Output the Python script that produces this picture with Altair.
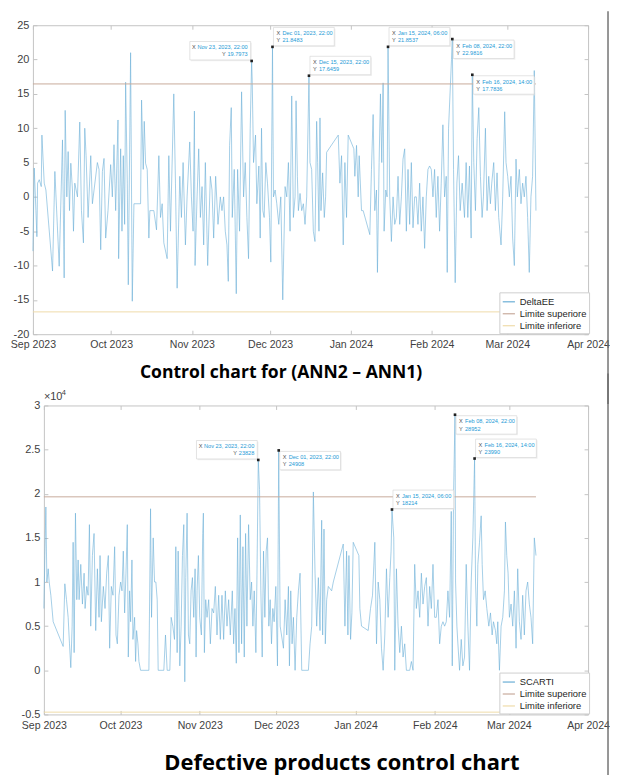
import altair as alt
import pandas as pd

# ---------------- data ----------------
START = "2023-09-01"
tick_months = [(2023, 9), (2023, 10), (2023, 11), (2023, 12), (2024, 1), (2024, 2), (2024, 3), (2024, 4)]

# (days after 1 Sep 2023 00:00, DeltaEE)
deltaee = [
 (0.0,-7.9),(0.51,4.2),(1.15,-2.0),(1.53,-5.8),(1.79,2.0),(2.43,2.5),(3.2,1.5),(3.45,9.0),(4.34,2.0),(4.98,1.0),
 (7.53,-10.8),(8.42,3.7),(10.08,-10.1),(11.35,8.3),(11.99,-11.8),(12.37,12.6),(13.01,0.0),(13.52,6.6),(14.03,-2.0),(14.54,4.9),
 (15.17,1.0),(15.56,-5.0),(16.07,2.0),(17.09,0.0),(17.98,10.9),(18.62,-2.0),(19.38,-6.7),(19.89,10.0),(20.40,6.0),(21.17,-3.0),
 (22.19,6.0),(22.82,-1.0),(24.73,5.0),(25.37,4.0),(26.01,-7.7),(26.65,3.7),(27.28,5.6),(27.92,-6.0),(28.81,-2.0),(29.83,4.7),
 (30.47,0.0),(31.11,7.6),(31.75,-2.0),(32.64,11.2),(32.89,-9.0),(33.66,7.0),(34.17,-5.0),(34.68,6.0),(35.19,-4.0),(35.57,16.7),
 (36.21,2.0),(36.59,-12.8),(37.48,21.0),(38.12,-15.2),(38.76,-1.0),(41.31,-1.0),(41.69,14.1),(42.33,4.0),(42.71,11.0),(43.22,4.9),
 (43.85,4.0),(44.49,-6.0),(44.87,-2.0),(46.40,-2.0),(47.42,-4.8),(48.32,6.0),(48.95,-3.0),(49.59,-1.0),(50.23,-6.7),(51.50,-9.0),
 (52.14,6.0),(52.78,-5.0),(54.05,15.0),(54.69,2.0),(55.33,-13.3),(56.35,3.0),(56.98,-3.0),(57.62,5.0),(58.51,-7.0),(59.15,0.0),
 (60.17,8.0),(60.81,0.0),(61.45,-5.0),(61.96,12.5),(62.21,-10.0),(62.98,0.0),(63.61,7.0),(64.25,-3.0),(64.89,1.5),(65.52,-7.0),
 (66.16,5.0),(67.05,-10.0),(68.07,3.0),(68.71,1.0),(69.35,-6.0),(70.11,3.0),(71.01,-4.0),(71.90,0.0),(72.54,-2.0),(73.17,0.0),
 (73.81,-5.0),(74.45,-7.0),(74.96,-12.3),(75.47,7.5),(76.10,13.0),(76.49,-3.0),(77.25,4.0),(78.02,-14.1),(78.53,4.0),(79.29,-5.0),
 (80.06,15.3),(80.82,0.0),(81.46,5.0),(82.10,-3.0),(82.73,-9.0),(83.37,10.0),(83.917,19.7973),(84.14,17.0),(84.65,5.0),(85.41,9.0),
 (85.92,-1.0),(86.69,4.5),(87.20,-6.0),(87.71,10.0),(88.21,-2.0),(88.72,-3.0),(89.36,5.0),(90.00,2.0),(90.77,-3.0),(91.28,-9.5),
 (91.917,21.8483),(92.29,0.0),(92.93,1.0),(93.57,-1.0),(94.33,-4.0),(95.10,0.0),(95.86,-15.0),(96.75,1.5),(97.39,0.0),(98.03,5.0),
 (98.66,-5.0),(99.30,14.7),(99.94,-3.0),(100.58,0.0),(100.96,14.0),(101.47,3.0),(101.85,-2.0),(102.49,0.5),(103.13,-2.0),(103.76,-1.0),
 (104.40,-4.0),(105.04,0.0),(105.917,17.6459),(106.31,5.0),(106.95,4.0),(107.59,-5.0),(108.22,-6.5),(108.86,11.0),(109.24,5.0),(109.75,-5.0),
 (110.14,11.5),(110.52,-2.0),(111.16,3.5),(111.79,-3.0),(112.30,0.0),(112.69,6.5),(117.15,9.0),(117.78,2.0),(118.42,6.0),(119.06,-7.0),
 (119.70,5.0),(120.33,-3.0),(120.97,9.0),(123.14,7.0),(123.52,3.0),(124.16,7.5),(124.80,0.0),(125.18,6.0),(126.07,-2.0),(126.71,-2.0),
 (129.26,-5.5),(129.89,4.0),(130.53,12.0),(131.17,-2.0),(131.81,1.0),(132.19,-11.0),(132.83,5.0),(133.34,15.0),(133.85,5.0),(134.36,16.6),
 (134.74,-5.0),(135.38,1.0),(135.89,0.0),(136.25,21.8537),(136.90,0.0),(137.54,-6.5),(138.18,0.0),(138.82,-4.0),(139.45,-3.0),(140.09,3.0),
 (140.73,-4.0),(141.37,0.0),(142.00,5.5),(142.64,7.0),(143.28,-5.0),(143.92,4.0),(144.55,-4.0),(145.19,5.0),(145.83,-4.5),(146.47,0.0),
 (147.10,0.0),(147.74,-4.0),(148.38,2.0),(149.01,-5.0),(149.65,0.0),(150.29,-7.5),(150.93,0.0),(151.56,4.0),(152.20,4.5),(152.84,4.0),
 (153.48,0.0),(154.11,4.0),(154.75,-3.0),(155.39,3.0),(156.03,-5.0),(156.66,2.0),(157.30,10.5),(157.94,0.0),(158.58,3.0),(158.96,-11.0),
 (159.47,10.0),(160.6,20.0),(160.917,22.9816),(161.38,4.0),(162.02,-12.5),(162.66,2.0),(163.29,6.0),(163.93,-2.0),(164.69,2.0),(165.59,-3.0),
 (166.22,5.0),(166.86,-3.0),(167.50,4.5),(168.14,-6.0),(168.583,17.7836),(169.15,5.0),(169.79,-2.0),(170.43,8.5),(171.07,13.0),(171.70,3.0),
 (172.34,-3.0),(172.85,0.0),(173.62,10.0),(174.25,-2.0),(174.89,3.0),(175.53,-1.0),(176.04,2.0),(176.80,5.0),(177.44,-2.0),(178.08,3.5),
 (178.72,-3.0),(179.61,-7.0),(180.25,0.0),(181.01,12.4),(181.52,5.0),(182.16,3.0),(182.80,0.0),(183.43,3.0),(184.07,-6.0),(184.71,-10.0),
 (185.35,5.5),(185.86,0.0),(186.62,4.0),(187.26,-1.0),(187.90,2.0),(188.53,0.0),(189.17,3.0),(189.81,-3.0),(190.44,-11.0),(191.08,0.0),
 (191.72,3.0),(192.36,18.4),(193.00,-2.0),
]

# (days after 1 Sep 2023 00:00, SCARTI)
scarti = [
 (0.0,7000),(0.39,13000),(0.78,18500),(1.17,10000),(1.69,11500),(2.08,10000),(2.73,8500),(3.64,5500),(7.55,2700),(8.20,9800),
 (8.85,8000),(9.50,6000),(10.02,3000),(10.54,300),(11.06,5000),(11.45,14500),(11.84,2000),(12.36,17800),(12.88,8000),(13.40,12500),
 (13.79,8000),(14.44,12000),(15.09,7500),(15.74,11000),(16.13,7000),(16.78,9500),(17.30,8500),(17.82,16500),(18.34,5000),(18.99,13000),
 (19.64,15500),(20.29,4500),(20.94,11500),(21.59,6000),(21.98,13000),(22.50,5500),(23.28,9500),(23.93,7000),(24.58,11000),(25.23,13000),
 (25.75,2500),(26.40,9500),(27.05,8500),(27.70,14000),(28.23,4000),(28.75,3000),(29.40,8500),(30.05,10000),(30.57,9000),(31.09,13500),
 (31.61,6500),(32.13,11000),(32.65,16500),(33.04,1500),(33.56,9000),(33.95,5500),(34.47,12500),(34.86,3500),(35.51,6000),(35.90,1000),
 (36.29,4500),(36.81,3000),(37.20,1000),(37.85,0),(41.10,0),(41.75,18300),(42.14,6000),(42.79,15000),(43.31,10000),(43.83,10000),
 (44.35,8000),(44.74,0),(46.95,0),(47.60,4000),(48.25,0),(49.30,0),(49.82,6000),(50.47,5000),(51.12,3500),(51.64,14000),
 (52.16,2000),(52.55,13500),(53.20,500),(53.72,5000),(54.24,13000),(54.76,16500),(55.15,-1300),(55.54,10500),(56.06,17800),(56.58,4000),
 (57.10,3000),(57.62,9000),(58.14,10500),(58.66,6000),(59.18,11500),(59.57,1500),(59.96,9000),(60.48,13000),(61.00,6000),(61.65,4000),
 (62.17,15500),(62.43,17800),(62.82,2000),(63.34,8000),(63.86,6000),(64.51,8000),(65.16,3000),(65.81,7000),(66.46,6500),(67.11,9500),
 (67.76,4000),(68.41,8500),(69.06,3500),(69.71,8500),(70.36,3500),(71.02,9000),(71.67,5000),(72.32,8000),(72.97,4000),(73.75,9000),
 (74.27,3000),(74.79,7000),(75.31,800),(75.83,15000),(76.35,2000),(76.87,17600),(77.39,3000),(77.91,14000),(78.43,1500),(78.95,15500),
 (79.47,5000),(80.12,16500),(80.77,8000),(81.29,10000),(81.81,5000),(82.33,9000),(82.98,2000),(83.37,10000),(83.917,23828),(84.41,20500),
 (84.93,9000),(85.45,1500),(85.97,13500),(86.49,6000),(87.01,13500),(87.53,15000),(88.05,5000),(88.57,8000),(89.09,3000),(89.61,7000),
 (90.13,5500),(90.78,9500),(91.43,500),(91.917,24908),(92.48,5000),(93.77,2500),(94.42,8000),(95.07,4000),(95.72,9500),(96.11,500),
 (96.63,9000),(97.15,3000),(97.67,6000),(98.32,0),(98.97,6000),(99.62,9000),(100.27,11000),(100.92,0),(103.53,0),(104.18,3000),
 (104.83,5000),(105.48,20200),(106.13,11000),(106.78,5000),(107.43,10500),(108.08,4500),(108.73,17000),(109.12,4000),(109.64,16000),(110.16,3000),
 (110.68,8000),(111.33,9500),(112.63,9000),(113.28,10000),(117.18,14300),(117.83,5000),(118.48,13500),(119.00,4000),(119.39,13000),(120.04,3500),
 (120.56,6500),(121.08,14500),(123.29,13000),(123.68,7000),(124.33,5000),(126.94,4500),(127.85,7000),(128.63,8500),(129.54,14500),(130.19,3000),
 (130.84,10000),(131.49,8000),(132.14,2500),(132.79,0),(133.44,4000),(134.09,11500),(134.74,6000),(135.39,10500),(135.9,13500),(136.25,18214),
 (136.95,15000),(137.34,0),(137.99,11500),(138.64,5000),(139.29,2000),(139.94,5000),(140.59,1500),(141.24,3000),(141.89,0),(143.19,0),
 (143.84,1000),(144.49,0),(145.14,12000),(145.79,7000),(146.44,9000),(147.10,6000),(147.75,11000),(148.40,7500),(149.05,9500),(149.70,10500),
 (150.35,5000),(151.00,9500),(151.65,7000),(152.30,12000),(152.95,6000),(153.60,6000),(154.25,8000),(154.90,3000),(155.55,5000),(156.20,5500),
 (156.85,5000),(157.50,5500),(158.15,9000),(158.80,6000),(159.45,18000),(159.84,500),(160.36,20000),(160.917,28952),(161.14,10000),(161.66,5000),
 (162.05,3000),(162.70,0),(163.35,3500),(164.00,500),(164.65,1500),(165.30,12000),(165.95,5000),(166.60,0),(167.25,10000),(167.90,15000),
 (168.583,23990),(168.95,10000),(169.47,5000),(169.86,12000),(170.51,14500),(171.16,17500),(171.55,12000),(172.07,8000),(172.72,9000),(173.37,7000),
 (174.15,5000),(174.80,6500),(175.45,4000),(175.97,5500),(176.75,4500),(177.27,3000),(177.66,5500),(178.31,0),(178.96,5000),(179.61,6000),
 (180.26,9000),(180.65,16800),(181.17,13000),(181.69,11000),(182.21,6000),(182.86,7500),(183.51,5000),(184.16,9000),(184.81,2500),(185.46,11500),
 (186.11,5500),(186.76,3500),(187.41,8500),(188.06,4000),(188.71,9000),(189.36,10000),(190.01,7500),(190.66,6000),(191.31,3000),(191.96,15000),
 (192.61,13000),
]

top_limits = [16.45, -16.75]
bot_limits = [19650, -4740]

top_y_ticks = [-20, -15, -10, -5, 0, 5, 10, 15, 20, 25]
bot_y_ticks = [-5000, 0, 5000, 10000, 15000, 20000, 25000, 30000]

# data tips: day, value, X text, Y text, box side, box direction
top_tips = [
 (83.917, 19.7973, "Nov 23, 2023, 22:00", "19.7973", "left", "up"),
 (91.917, 21.8483, "Dec 01, 2023, 22:00", "21.8483", "right", "up"),
 (105.917, 17.6459, "Dec 15, 2023, 22:00", "17.6459", "right", "up"),
 (136.25, 21.8537, "Jan 15, 2024, 06:00", "21.8537", "right", "up"),
 (160.917, 22.9816, "Feb 08, 2024, 22:00", "22.9816", "right", "down"),
 (168.583, 17.7836, "Feb 16, 2024, 14:00", "17.7836", "right", "down"),
]
bot_tips = [
 (83.917, 23828, "Nov 23, 2023, 22:00", "23828", "left", "up"),
 (91.917, 24908, "Dec 01, 2023, 22:00", "24908", "right", "down"),
 (136.25, 18214, "Jan 15, 2024, 06:00", "18214", "right", "up"),
 (160.917, 28952, "Feb 08, 2024, 22:00", "28952", "right", "down"),
 (168.583, 23990, "Feb 16, 2024, 14:00", "23990", "right", "up"),
]

top_title = "Control chart for (ANN2 \u2013 ANN1)"
bot_title = "Defective products control chart"

# ---------------- style ----------------
BLUE = "#6aaed6"
UPPER = "#c8ab9c"
LOWER = "#efdcaa"
TIP_BLUE = "#1e9ad6"
FRAME = "#c4c4c4"
LABEL = "#3f3f3f"
FONT = "Liberation Sans"
H = 310

month_ticks = [alt.DateTime(year=y, month=m, date=1) for y, m in tick_months]


def stamps(days):
    base = pd.Timestamp(START)
    return [(base + pd.Timedelta(days=float(d))).strftime("%Y-%m-%dT%H:%M:%S") for d in days]


def text_w(s, fs):
    w = 0.0
    for ch in s:
        if ch.isdigit():
            w += 0.556
        elif ch in " .,:":
            w += 0.278
        elif ch.isupper():
            w += 0.70
        else:
            w += 0.52
    return w * fs


def tip_layers(tips, xs, ys):
    fs = 5.6
    out = []
    for d, v, xl, yl, side, vert in tips:
        row = pd.DataFrame({"t": stamps([d]), "v": [v], "xl": [xl], "yl": [yl]})
        enc = dict(x=alt.X("t:T", scale=xs, axis=None, title=None),
                   y=alt.Y("v:Q", scale=ys, axis=None, title=None))
        base = alt.Chart(row).encode(**enc)
        if vert == "up":
            y0, y1, l1, l2 = -19.5, -1.0, -14.0, -6.8
        else:
            y0, y1, l1, l2 = 1.0, 19.5, 6.8, 14.0
        if side == "right":
            x0, x1 = 1.0, 62.0
        else:
            x0, x1 = -62.0, -1.0
        out.append(base.mark_rect(xOffset=x0 + 1.2, x2Offset=x1 + 1.2, yOffset=y0 + 1.2, y2Offset=y1 + 1.2,
                                  fill="#e6e6e6", opacity=0.6).encode(x2="t:T", y2="v:Q"))
        out.append(base.mark_rect(xOffset=x0, x2Offset=x1, yOffset=y0, y2Offset=y1,
                                  fill="white", stroke="#d2d2d2", strokeWidth=0.6).encode(x2="t:T", y2="v:Q"))
        if side == "right":
            specs = [("X", "left", 4.0, l1, "#505050", None), ("xl", "left", 10.0, l1, TIP_BLUE, "field"),
                     ("Y", "left", 4.0, l2, "#505050", None), ("yl", "left", 10.0, l2, TIP_BLUE, "field")]
        else:
            wx = text_w(xl, fs)
            wy = text_w(yl, fs)
            specs = [("X", "right", -4.0 - wx - 1.8, l1, "#505050", None), ("xl", "right", -4.0, l1, TIP_BLUE, "field"),
                     ("Y", "right", -4.0 - wy - 1.8, l2, "#505050", None), ("yl", "right", -4.0, l2, TIP_BLUE, "field")]
        for txt, al, dx, dy, col, kind in specs:
            if kind == "field":
                out.append(base.mark_text(align=al, baseline="middle", dx=dx, dy=dy, font=FONT,
                                          fontSize=fs, color=col).encode(text=f"{txt}:N"))
            else:
                out.append(base.mark_text(align=al, baseline="middle", dx=dx, dy=dy, font=FONT,
                                          fontSize=fs, color=col, text=txt))
        out.append(base.mark_point(shape="square", filled=True, size=7, color="#202020", opacity=1))
    return out


def panel(points, name, limits, tips, y_domain, y_ticks, label_expr, width,
          legend_xy, title, title_xy, title_size, page_line, xpad, extra):
    days = [p[0] for p in points]
    vals = [p[1] for p in points]
    t = stamps(days)
    df = pd.DataFrame({"t": t, "v": vals, "s": name})
    lim = pd.DataFrame({"t": [t[0], t[-1], t[0], t[-1]],
                        "v": [limits[0], limits[0], limits[1], limits[1]],
                        "s": ["Limite superiore"] * 2 + ["Limite inferiore"] * 2})
    xs = alt.Scale(domain=[month_ticks[0], month_ticks[-1]], nice=False)
    ys = alt.Scale(domain=y_domain, nice=False, zero=False)
    cs = alt.Scale(domain=[name, "Limite superiore", "Limite inferiore"], range=[BLUE, UPPER, LOWER])
    leg = alt.Legend(title=None, orient="none", legendX=legend_xy[0], legendY=legend_xy[1],
                     direction="vertical", symbolType="stroke", symbolSize=150, symbolStrokeWidth=1.2,
                     labelFont=FONT, labelFontSize=9.4, labelColor="#1e1e1e", labelOffset=4,
                     fillColor="white", strokeColor="#cfcfcf", padding=2.5, rowPadding=0, cornerRadius=0)
    ax = dict(domain=False, ticks=True, tickSize=4, offset=-4, tickColor=FRAME, tickWidth=1, grid=False,
              labelFont=FONT, labelColor=LABEL, minExtent=0)
    xaxis = alt.Axis(values=month_ticks, format="%b %Y", labelFlush=False, labelOverlap=False,
                     labelFontSize=10.6, labelPadding=xpad, **ax)
    yaxis = alt.Axis(values=y_ticks, labelExpr=label_expr, labelOverlap=False, labelFontSize=11,
                     labelPadding=4, **ax)

    main = alt.Chart(df).mark_line(strokeWidth=0.6).encode(
        x=alt.X("t:T", scale=xs, axis=xaxis, title=None),
        y=alt.Y("v:Q", scale=ys, axis=yaxis, title=None),
        color=alt.Color("s:N", scale=cs, legend=leg),
    )
    lims = alt.Chart(lim).mark_line(strokeWidth=1.0).encode(
        x=alt.X("t:T", scale=xs, axis=None, title=None),
        y=alt.Y("v:Q", scale=ys, axis=None, title=None),
        color=alt.Color("s:N", scale=cs, legend=leg),
    )
    frame = alt.Chart(lim).mark_line(strokeOpacity=0).encode(
        x=alt.X("t:T", scale=xs, title=None,
                axis=alt.Axis(orient="top", values=month_ticks, labels=False, maxExtent=0, **ax)),
        y=alt.Y("v:Q", scale=ys, title=None,
                axis=alt.Axis(orient="right", values=y_ticks, labels=False, maxExtent=0, **ax)),
    )
    one = pd.DataFrame({"txt": [title]})
    ttl = alt.Chart(one).mark_text(font="Open Sans", fontWeight="bold", fontSize=title_size,
                                   align="center", baseline="alphabetic", color="#000000").encode(
        x=alt.value(title_xy[0]), y=alt.value(title_xy[1]), text="txt:N")
    pline = alt.Chart(one).mark_rule(color="#6a6a6a", strokeWidth=1.4).encode(
        x=alt.value(page_line[0]), y=alt.value(page_line[1]), y2=alt.value(page_line[2]))
    layers = [main, lims, frame] + tip_layers(tips, xs, ys) + [ttl, pline] + extra(one)
    return alt.layer(*layers).resolve_axis(x="independent", y="independent").properties(width=width, height=H)


def top_extra(one):
    anchor = alt.Chart(one).mark_rule(strokeOpacity=0, strokeWidth=0.1).encode(
        x=alt.value(-24), y=alt.value(-14), y2=alt.value(-10))
    return [anchor]


def bot_extra(one):
    a = alt.Chart(one).mark_text(font=FONT, fontSize=11, color=LABEL, align="left", baseline="middle",
                                 text="\u00d710").encode(x=alt.value(0), y=alt.value(-8))
    b = alt.Chart(one).mark_text(font=FONT, fontSize=7.5, color=LABEL, align="left", baseline="middle",
                                 text="4").encode(x=alt.value(18), y=alt.value(-13))
    return [a, b]


top = panel(deltaee, "DeltaEE", top_limits, top_tips, [-20, 25], top_y_ticks,
            "'' + datum.value", 557, (468, 268), top_title, (249, 354), 17.6,
            (577, -14, 380), 5, top_extra)
bottom = panel(scarti, "SCARTI", bot_limits, bot_tips, [-5000, 30000], bot_y_ticks,
               "'' + (datum.value / 10000)", 546, (457, 268), bot_title, (299, 366), 22,
               (566, -32, 375), 6.5, bot_extra)

spacer = alt.Chart(pd.DataFrame({"a": [0]})).mark_point(opacity=0).properties(
    width=11, height=H, view=alt.ViewBackground(strokeOpacity=0))

bottom_row = alt.hconcat(spacer, bottom, spacing=0, bounds="flush").resolve_scale(color="independent")
chart = alt.vconcat(top, bottom_row, spacing=71.5, bounds="flush").resolve_scale(
    color="independent").properties(padding=0).configure_view(stroke=FRAME, strokeWidth=1)

chart.save("out.html", embed_options={"renderer": "svg", "actions": False})
